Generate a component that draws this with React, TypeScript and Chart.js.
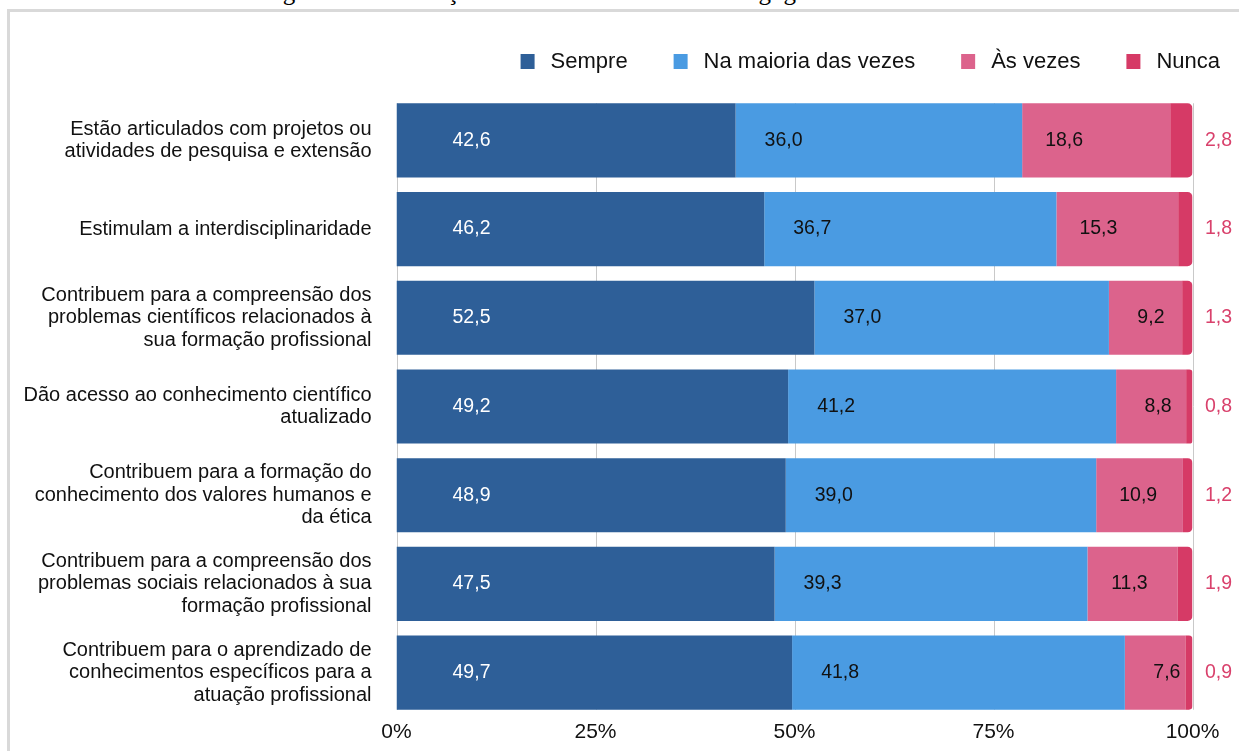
import React, { useEffect, useRef } from "react";
import { Chart, registerables } from "chart.js";

Chart.register(...registerables);

const titleText = "Figura 10 – Avaliação da Estrutura Didático-Pedagógica do CC";

const categories: string[][] = [
  ["Estão articulados com projetos ou", "atividades de pesquisa e extensão"],
  ["Estimulam a interdisciplinaridade"],
  ["Contribuem para a compreensão dos", "problemas científicos relacionados à", "sua formação profissional"],
  ["Dão acesso ao conhecimento científico", "atualizado"],
  ["Contribuem para a formação do", "conhecimento dos valores humanos e", "da ética"],
  ["Contribuem para a compreensão dos", "problemas sociais relacionados à sua", "formação profissional"],
  ["Contribuem para o aprendizado de", "conhecimentos específicos para a", "atuação profissional"],
];

const seriesNames = ["Sempre", "Na maioria das vezes", "Às vezes", "Nunca"];
const sempre = [42.6, 46.2, 52.5, 49.2, 48.9, 47.5, 49.7];
const maioria = [36.0, 36.7, 37.0, 41.2, 39.0, 39.3, 41.8];
const asVezes = [18.6, 15.3, 9.2, 8.8, 10.9, 11.3, 7.6];
const nunca = [2.8, 1.8, 1.3, 0.8, 1.2, 1.9, 0.9];
const xTickValues = [0, 25, 50, 75, 100];

const colors = ["#2e5f98", "#4a9be2", "#dc638c", "#d63a66"];
const FONT = '"Liberation Sans", Arial, sans-serif';

const gridPlugin = {
  id: "customGrid",
  beforeDatasetsDraw(chart: any) {
    const meta = chart.getDatasetMeta(0);
    if (!meta.data.length) return;
    const first = meta.data[0].getProps(["y", "height"], true);
    const last = meta.data[meta.data.length - 1].getProps(["y", "height"], true);
    const top = first.y - first.height / 2;
    const bottom = last.y + last.height / 2;
    const xs = chart.scales.x;
    const ctx = chart.ctx;
    ctx.save();
    ctx.strokeStyle = "#c9c9c9";
    ctx.lineWidth = 1;
    xTickValues.forEach((v) => {
      const px = Math.round(xs.getPixelForValue(v)) + 0.5;
      ctx.beginPath();
      ctx.moveTo(px, top);
      ctx.lineTo(px, bottom);
      ctx.stroke();
    });
    ctx.restore();
  },
};

const labelPlugin = {
  id: "valueLabels",
  afterDatasetsDraw(chart: any) {
    const ctx = chart.ctx;
    ctx.save();
    ctx.font = `19.5px ${FONT}`;
    ctx.textBaseline = "middle";
    ctx.textAlign = "center";
    chart.data.datasets.forEach((ds: any, di: number) => {
      const meta = chart.getDatasetMeta(di);
      meta.data.forEach((bar: any, i: number) => {
        const v = ds.data[i] as number;
        const p = bar.getProps(["x", "y", "base"], true);
        const txt = v.toFixed(1).replace(".", ",");
        let tx: number;
        if (di === 0) {
          ctx.fillStyle = "#ffffff";
          tx = p.base + 75;
        } else if (di === 1) {
          ctx.fillStyle = "#111111";
          tx = p.base + 48;
        } else if (di === 2) {
          ctx.fillStyle = "#111111";
          tx = p.base + 42;
        } else {
          ctx.fillStyle = "#d9416c";
          tx = chart.chartArea.right + 26;
        }
        ctx.fillText(txt, tx, p.y);
      });
    });
    ctx.restore();
  },
};

const legendPlugin = {
  id: "customLegend",
  afterDraw(chart: any) {
    const ctx = chart.ctx;
    ctx.save();
    ctx.font = `22px ${FONT}`;
    ctx.textBaseline = "middle";
    ctx.textAlign = "left";
    const box = 14;
    const gapBoxText = 16;
    const gapItems = 46;
    const rightEdge = 1209;
    const cy = 49.5;
    const widths = seriesNames.map((n) => box + gapBoxText + ctx.measureText(n).width);
    const total = widths.reduce((a, b) => a + b, 0) + gapItems * (seriesNames.length - 1);
    let x = rightEdge - total;
    seriesNames.forEach((n, i) => {
      ctx.fillStyle = colors[i];
      ctx.fillRect(x, cy - 7.5, box, 15);
      ctx.fillStyle = "#111111";
      ctx.fillText(n, x + box + gapBoxText, cy);
      x += widths[i] + gapItems;
    });
    ctx.restore();
  },
};

export default function App() {
  const canvasRef = useRef<HTMLCanvasElement | null>(null);

  useEffect(() => {
    if (!canvasRef.current) return;
    const series = [sempre, maioria, asVezes, nunca];
    const chart = new Chart(canvasRef.current, {
      type: "bar",
      data: {
        labels: categories,
        datasets: series.map((d, i) => ({
          label: seriesNames[i],
          data: d,
          backgroundColor: colors[i],
          borderWidth: 0,
          borderRadius: i === 3 ? 5 : 0,
          borderSkipped: "start",
          categoryPercentage: 0.8355,
          barPercentage: 1,
        })),
      },
      options: {
        indexAxis: "y",
        responsive: false,
        animation: false,
        devicePixelRatio: 1,
        layout: { padding: { top: 84, right: 46.5, bottom: 2.8, left: 0 } },
        plugins: {
          legend: { display: false },
          tooltip: { enabled: false },
          title: { display: false },
        },
        scales: {
          x: {
            stacked: true,
            min: 0,
            max: 100,
            grid: { display: false, drawTicks: false },
            border: { display: false },
            afterBuildTicks: (scale: any) => {
              scale.ticks = xTickValues.map((v) => ({ value: v }));
            },
            ticks: {
              padding: 3,
              color: "#111111",
              font: { family: FONT, size: 21 },
              callback: (v: any) => `${v}%`,
              maxRotation: 0,
            },
          },
          y: {
            stacked: true,
            grid: { display: false, drawTicks: false },
            border: { display: false },
            afterFit: (scale: any) => {
              scale.width = 385.5;
              scale.paddingTop = 0;
              scale.paddingBottom = 0;
            },
            ticks: {
              padding: 25,
              color: "#111111",
              font: { family: FONT, size: 20, lineHeight: 1.125 },
            },
          },
        },
      },
      plugins: [gridPlugin, labelPlugin, legendPlugin],
    } as any);
    return () => chart.destroy();
  }, []);

  return (
    <div style={{ position: "fixed", left: 0, top: 0, width: 1239, height: 751, overflow: "hidden", background: "#fff" }}>
      <div
        style={{
          position: "absolute",
          left: 7,
          top: 9,
          width: 1300,
          height: 800,
          borderLeft: "3px solid #d9d9d9",
          borderTop: "3px solid #d9d9d9",
          boxSizing: "border-box",
          background: "#fff",
        }}
      />
      <div
        style={{
          position: "absolute",
          left: 262,
          top: -21,
          fontFamily: '"Liberation Serif", "Times New Roman", serif',
          fontSize: 25,
          lineHeight: "26px",
          whiteSpace: "nowrap",
          color: "#000",
        }}
      >
        {titleText}
      </div>
      <canvas
        ref={canvasRef}
        width={1228}
        height={739}
        style={{ position: "absolute", left: 11, top: 12, width: 1228, height: 739 }}
      />
    </div>
  );
}
